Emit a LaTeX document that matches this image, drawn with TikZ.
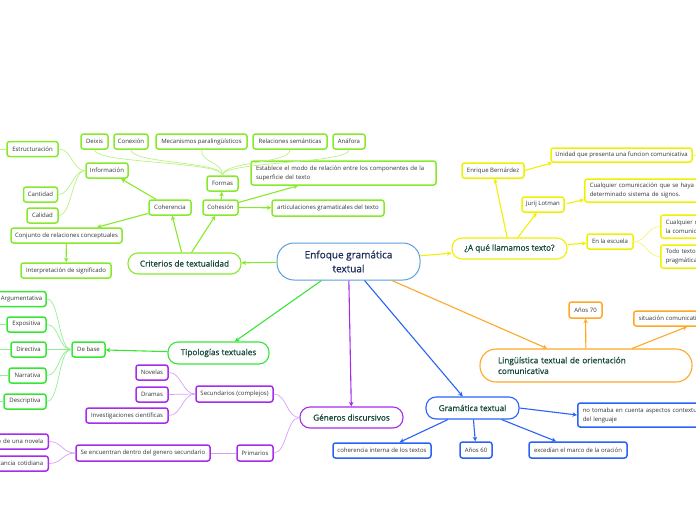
\documentclass[tikz,border=0pt]{standalone}
\usepackage{fontspec}
\setmainfont{Open Sans}
\newfontfamily\semifont[FakeBold=0.9]{Open Sans}
\usetikzlibrary{calc,arrows.meta}
\definecolor{cg}{HTML}{86EA2A}
\definecolor{cgl}{HTML}{B9F283}
\definecolor{tg}{HTML}{35E635}
\definecolor{tgl}{HTML}{92EE92}
\definecolor{yl}{HTML}{F0F000}
\definecolor{yll}{HTML}{F4F47A}
\definecolor{pu}{HTML}{A62BEB}
\definecolor{pul}{HTML}{D6A2F6}
\definecolor{bl}{HTML}{2A62F5}
\definecolor{orc}{HTML}{FFA726}
\definecolor{cb}{HTML}{5AA0DC}
\definecolor{txt}{HTML}{333333}
\definecolor{ttxt}{HTML}{174A3C}
\definecolor{ctxt}{HTML}{1F2E5A}
\tikzset{
 sb/.style={draw, rounded corners=2.5pt, line width=1.5pt, inner sep=0pt, font=\fontsize{6}{9}\selectfont, text=txt, minimum height=15},
 ml/.style={align=left, inner xsep=5pt, inner ysep=0pt},
 ttl/.style={draw, rounded corners=10pt, line width=1.1pt, inner sep=0pt, font=\semifont\fontsize{8.2}{10.7}\selectfont, text=ttxt, minimum height=21},
 arr/.style={line width=1.1pt, -{Stealth[length=4.5pt,width=4.5pt]}},
 thn/.style={line width=0.7pt},
 hl/.style={to path={.. controls +(-13,0) and +(13,0) .. (\tikztotarget)}},
 hr/.style={to path={.. controls +(13,0) and +(-13,0) .. (\tikztotarget)}},
 vu/.style={to path={.. controls +(0,-14) and +(0,14) .. (\tikztotarget)}},
}
\begin{document}
\begin{tikzpicture}[x=1pt,y=-1pt]
\useasboundingbox (0,0) rectangle (696,520);
\clip (0,0) rectangle (696,520);

% central
\node[draw=cb, line width=1pt, rounded corners=17pt, minimum width=143, minimum height=37, inner sep=0pt, align=center, font=\semifont\fontsize{10}{14}\selectfont, text=ctxt] (central) at (348.5,261.5) {Enfoque gramática\\textual};

% ---- Criterios de textualidad branch
\node[ttl, draw=cg, minimum width=113] (crit) at (184.5,263.5) {Criterios de textualidad};
\node[sb, draw=cg, minimum width=42] (coher) at (170,207.5) {Coherencia};
\node[sb, draw=cg, minimum width=35] (cohes) at (220.5,207.5) {Cohesión};
\node[sb, draw=cg, minimum width=42] (info) at (107,170.5) {Información};
\node[sb, draw=cg, minimum width=51] (estr) at (32.5,149) {Estructuración};
\node[sb, draw=cg, minimum width=34] (cant) at (40.5,194.5) {Cantidad};
\node[sb, draw=cg, minimum width=31] (cal) at (42.5,215.5) {Calidad};
\node[sb, draw=cg, minimum width=111] (conj) at (66.5,235.5) {Conjunto de relaciones conceptuales};
\node[sb, draw=cg, minimum width=90] (interp) at (66,270.5) {Interpretación de significado};
\node[sb, draw=cg, minimum width=27] (deixis) at (94.5,141.5) {Deixis};
\node[sb, draw=cg, minimum width=34] (conex) at (131,141.5) {Conexión};
\node[sb, draw=cg, minimum width=91] (mecan) at (201.5,141.5) {Mecanismos paralingüísticos};
\node[sb, draw=cg, minimum width=74] (relsem) at (290,141.5) {Relaciones semánticas};
\node[sb, draw=cg, minimum width=32] (anaf) at (349,141.5) {Anáfora};
\node[sb, draw=cg, minimum width=31] (formas) at (222.5,183.5) {Formas};
\node[sb, ml, draw=cg, text width=175, minimum height=24] (establ) at (343.5,173) {Establece el modo de relación entre los componentes de la\\superficie del texto};
\node[sb, draw=cg, minimum width=112, minimum height=16] (artic) at (328,208) {articulaciones gramaticales del texto};
\coordinate (estrL) at (-8,149);

\draw[arr, cg] (central) -- (crit);
\draw[arr, cg] (crit) -- (coher);
\draw[arr, cg] (crit) -- (cohes);
\draw[arr, cg] (coher) -- (info);
\draw[arr, cg] (coher) -- (conj);
\draw[arr, cg] (conj) -- (interp);
\draw[arr, cg] (cohes) -- (formas);
\draw[arr, cg] (cohes) -- (establ);
\draw[arr, cg] (cohes) -- (artic);
\draw[thn, cgl] (info.west) to[hl] (estr.east);
\draw[thn, cgl] (info.west) to[hl] (cant.east);
\draw[thn, cgl] (info.west) to[hl] (cal.east);
\draw[thn, cgl] (estr.west) -- (estrL);
\foreach \n in {deixis,conex,mecan,relsem,anaf}
  \draw[thn, cgl] (formas.north) to[vu] (\n.south);

% ---- Tipologias textuales branch
\node[ttl, draw=tg, minimum width=101, minimum height=22] (tipo) at (218.5,353) {Tipologías textuales};
\node[sb, draw=tg, minimum width=33] (debase) at (88.5,349.5) {De base};
\node[sb, draw=tg, minimum width=49] (argu) at (21.5,299) {Argumentativa};
\node[sb, draw=tg, minimum width=39] (expo) at (26.5,324.5) {Expositiva};
\node[sb, draw=tg, minimum width=35] (dire) at (28.5,349.5) {Directiva};
\node[sb, draw=tg, minimum width=37] (narr) at (27.5,375.5) {Narrativa};
\node[sb, draw=tg, minimum width=42] (desc) at (25,401.5) {Descriptiva};
\draw[arr, tg] (central) -- (tipo);
\draw[arr, tg] (tipo) -- (debase);
\foreach \n in {argu,expo,dire,narr,desc}
  \draw[thn, tgl] (debase.west) to[hl] (\n.east);
\foreach \n/\y in {expo/324.5,dire/349.5,narr/375.5,desc/401.5}{
  \coordinate (\n L) at (-8,\y);
  \draw[thn, tgl] (\n.west) -- (\n L);
}

% ---- Generos discursivos branch
\node[ttl, draw=pu, minimum width=103] (gen) at (351.5,417.5) {Géneros discursivos};
\node[sb, draw=pu, minimum width=77, minimum height=16] (secu) at (234.5,394) {Secundarios (complejos)};
\node[sb, draw=pu, minimum width=32] (nov) at (152,372.5) {Novelas};
\node[sb, draw=pu, minimum width=32] (dram) at (152,394.5) {Dramas};
\node[sb, draw=pu, minimum width=82] (inv) at (127,415.5) {Investigaciones científicas};
\node[sb, draw=pu, minimum width=36, minimum height=16] (prim) at (255,453) {Primarios};
\node[sb, draw=pu, minimum width=134, minimum height=16] (seenc) at (143,453) {Se encuentran dentro del genero secundario};
\node[sb, draw=pu, anchor=east, text width=80, align=right, inner xsep=5pt] (dial) at (49,441.5) {Diálogo de una novela};
\node[sb, draw=pu, anchor=east, text width=80, align=right, inner xsep=5pt] (circ) at (49,463.5) {Circunstancia cotidiana};
\draw[arr, pu] (central) -- (gen);
\draw[thn, pul] (gen.west) to[hl] (secu.east);
\draw[thn, pul] (gen.west) to[hl] (prim.east);
\draw[thn, pul] (secu.west) to[hl] (nov.east);
\draw[thn, pul] (secu.west) to[hl] (dram.east);
\draw[thn, pul] (secu.west) to[hl] (inv.east);
\draw[thn, pul] (prim.west) -- (seenc.east);
\draw[thn, pul] (seenc.west) to[hl] (dial.east);
\draw[thn, pul] (seenc.west) to[hl] (circ.east);

% ---- Gramatica textual branch
\node[ttl, draw=bl, minimum width=93, minimum height=22] (gram) at (472.5,408) {Gramática textual};
\node[sb, ml, draw=bl, anchor=west, text width=140, minimum height=24] (notom) at (577,415) {no tomaba en cuenta aspectos contextuales\\del lenguaje};
\node[sb, draw=bl, minimum width=98] (coh) at (382,450.5) {coherencia interna de los textos};
\node[sb, draw=bl, minimum width=32, minimum height=16] (a60) at (476,450) {Años 60};
\node[sb, draw=bl, minimum width=98, minimum height=16] (exc) at (578,450) {excedían el marco de la oración};
\draw[arr, bl] (central) -- (gram);
\draw[arr, bl] (gram.east) -- (notom.west);
\draw[arr, bl] (gram) -- (coh);
\draw[arr, bl] (gram) -- (a60);
\draw[arr, bl] (gram) -- (exc);

% ---- Linguistica textual branch
\node[ttl, ml, draw=orc, rounded corners=16pt, text width=176, inner xsep=18pt, minimum height=33] (ling) at (586,365.5) {Lingüística textual de orientación\\comunicativa};
\node[sb, draw=orc, minimum width=33, minimum height=16] (a70) at (585.5,310) {Años 70};
\node[sb, ml, draw=orc, anchor=west, text width=100] (sit) at (633,318.5) {situación comunicativa};
\draw[arr, orc] (central) -- (ling);
\draw[arr, orc] (ling) -- (a70);
\draw[arr, orc] ($(ling.north)+(46,0)$) -- ($(sit.south west)+(54,0)$);

% ---- A que llamamos texto branch
\node[ttl, draw=yl, minimum width=115] (aque) at (509.5,248.5) {¿A qué llamamos texto?};
\node[sb, draw=yl, minimum width=62] (enr) at (493,170.5) {Enrique Bernárdez};
\node[sb, draw=yl, minimum width=141, minimum height=14] (unid) at (621.5,155) {Unidad que presenta una funcion comunicativa};
\node[sb, draw=yl, minimum width=42] (jur) at (543,204.5) {Jurij Lotman};
\node[sb, ml, draw=yl, anchor=west, text width=210, minimum height=23] (cualq) at (584,190.5) {Cualquier comunicación que se haya manifestado en un\\determinado sistema de signos.};
\node[sb, draw=yl, minimum width=46] (escu) at (610,241.5) {En la escuela};
\node[sb, ml, draw=yl, anchor=west, text width=110, minimum height=23] (cualm) at (660,226.5) {Cualquier manifestación verbal\\la comunicación};
\node[sb, ml, draw=yl, anchor=west, text width=110, minimum height=23] (todo) at (660,256.5) {Todo texto tiene una dimensión\\pragmática};
\coordinate (unidR) at (704,155);
\draw[arr, yl] (central) -- (aque);
\draw[arr, yl] (aque) -- (enr);
\draw[arr, yl] (aque) -- (jur);
\draw[arr, yl] (aque) -- (escu);
\draw[arr, yl] (enr.east) -- ($(unid.south west)+(2,0)$);
\draw[arr, yl] ($(jur.east)+(2,-1)$) -- ($(cualq.south west)+(0,-3)$);
\draw[thn, yll] (unid.east) -- (unidR);
\draw[thn, yll] (escu.east) to[hr] (cualm.west);
\draw[thn, yll] (escu.east) to[hr] (todo.west);
\end{tikzpicture}
\end{document}
